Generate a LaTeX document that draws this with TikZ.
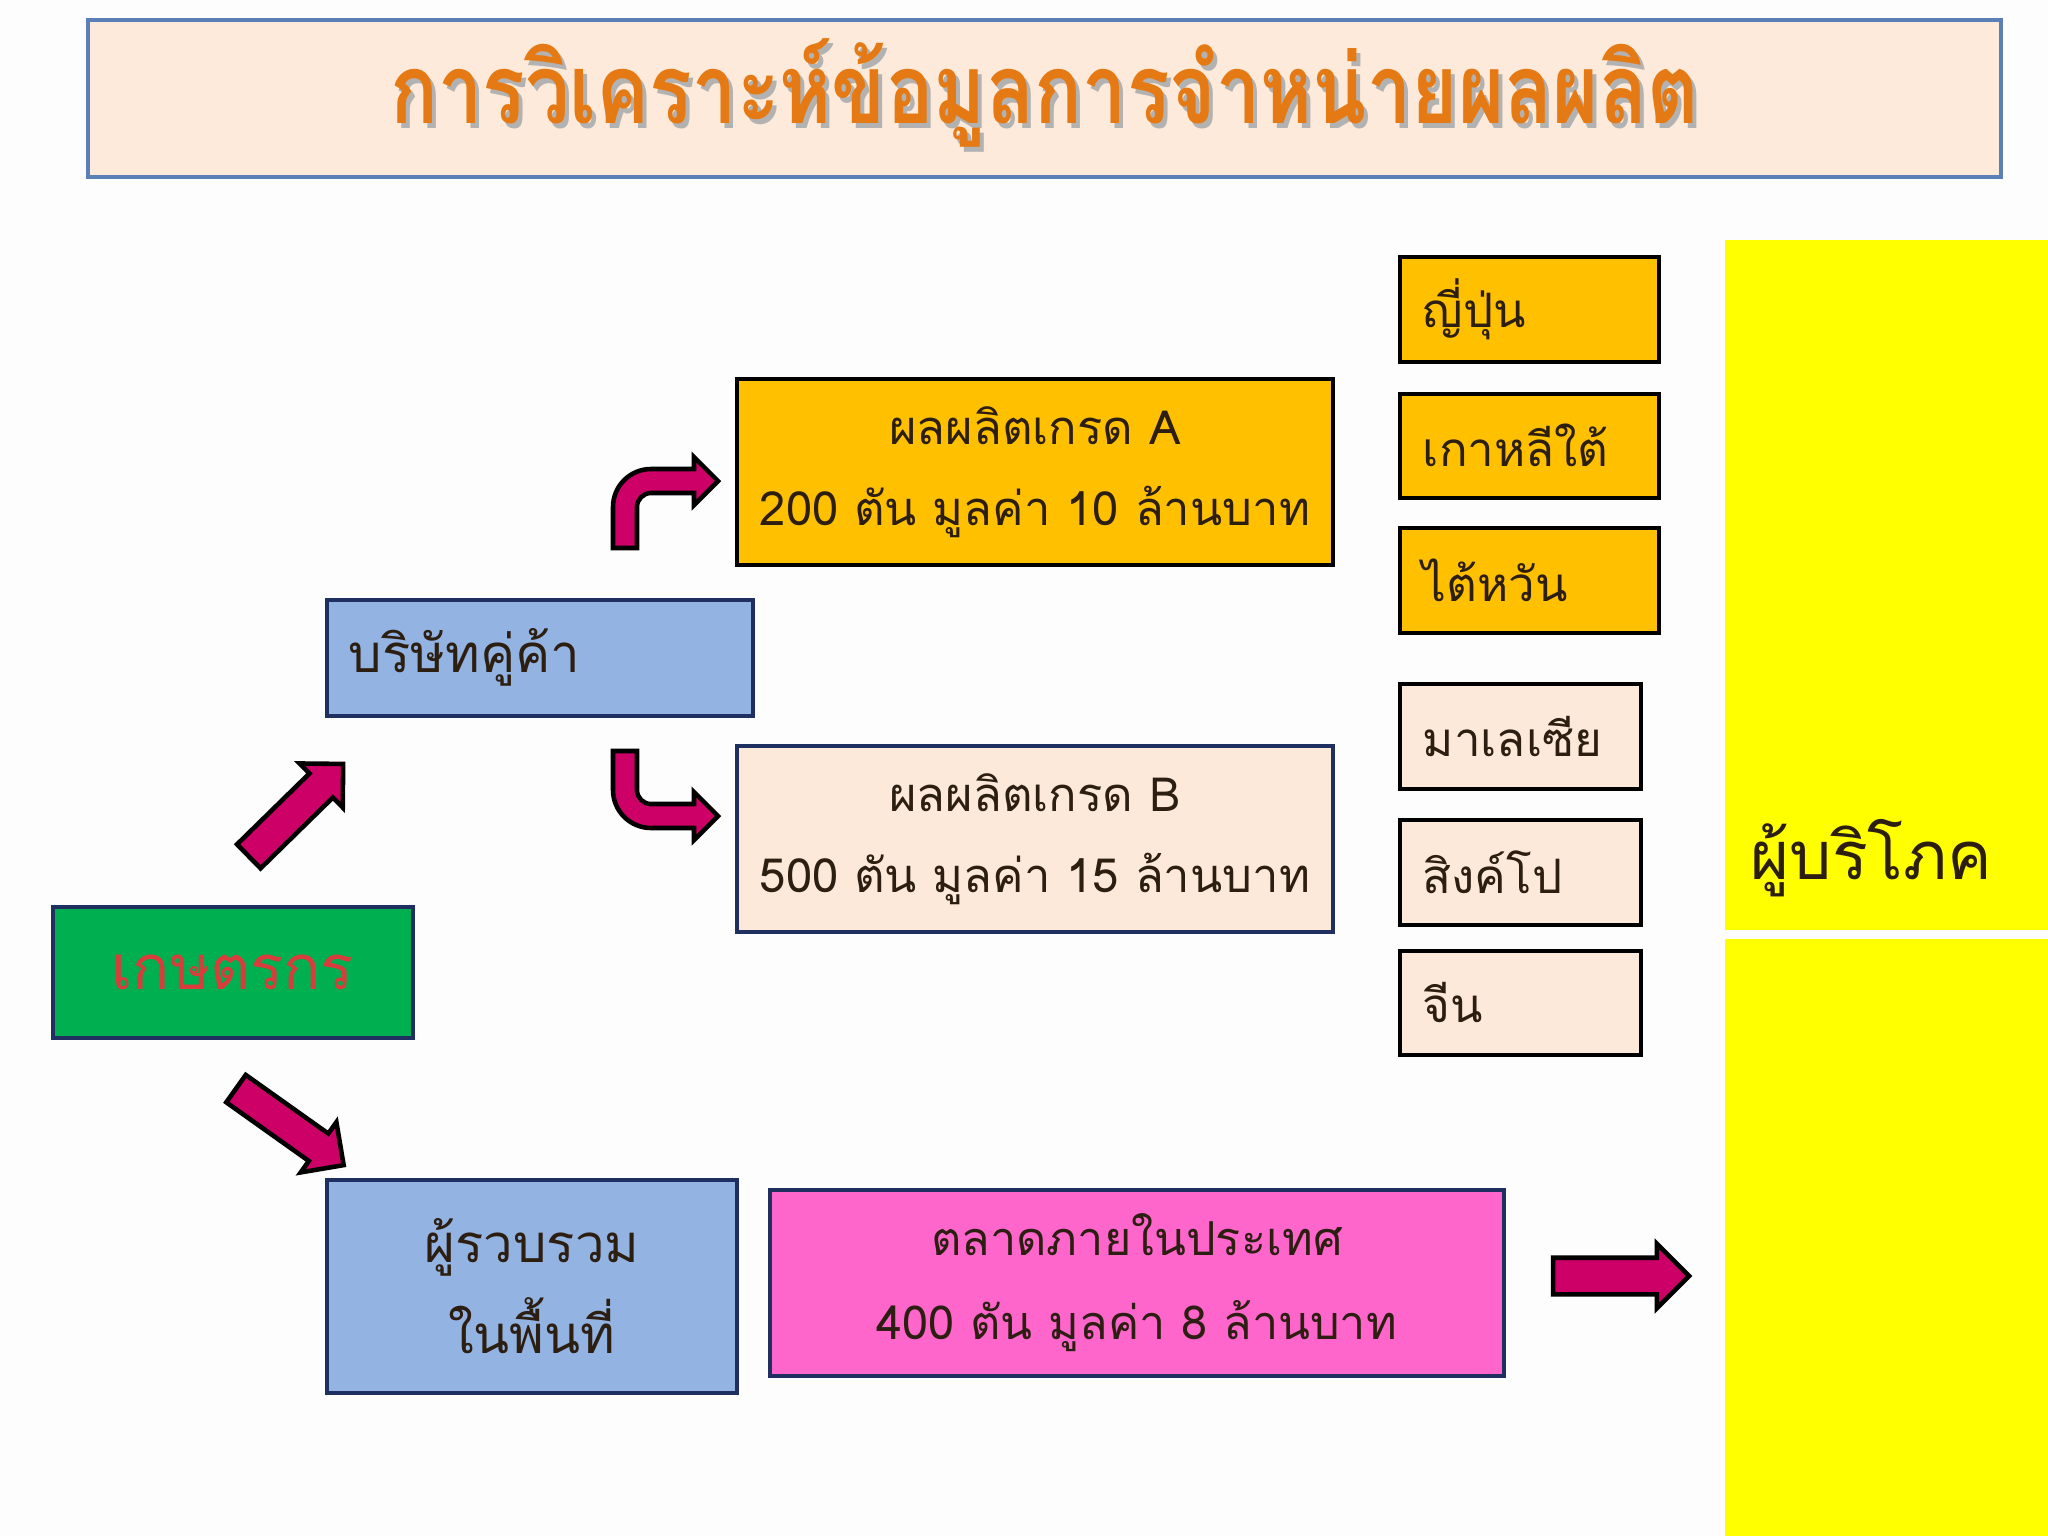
\documentclass[tikz,border=0pt]{standalone}
\usepackage{fontspec}
\setmainfont[Script=Thai]{Loma}
\newfontfamily\titlefont[Script=Thai,FakeStretch=0.82]{Loma}
\usetikzlibrary{shapes.arrows,calc}

\definecolor{pagebg}{HTML}{FDFDFE}
\definecolor{titlefill}{HTML}{FDEADA}
\definecolor{titleline}{HTML}{5B80B8}
\definecolor{titleorange}{HTML}{E57A14}
\definecolor{navyline}{HTML}{1F2F5F}
\definecolor{farmgreen}{HTML}{00B050}
\definecolor{farmred}{HTML}{DA3B3B}
\definecolor{paleblue}{HTML}{93B4E3}
\definecolor{gradeorange}{HTML}{FFC000}
\definecolor{peach}{HTML}{FDE9D9}
\definecolor{marketpink}{HTML}{FF66CC}
\definecolor{consumeryellow}{HTML}{FFFF00}
\definecolor{arrowred}{HTML}{CC0066}
\definecolor{textbrown}{HTML}{2D1E12}

\begin{document}
\begin{tikzpicture}[x=0.01cm,y=-0.01cm,
    box/.style={rectangle, draw=navyline, line width=1pt, inner sep=0pt,
      anchor=north west, text=textbrown},
    bluebox/.style={box, fill=paleblue},
    gradebox/.style={box, draw=black, fill=gradeorange, align=center,
      font=\fontsize{13.4}{23}\selectfont},
    peachbox/.style={box, fill=peach, align=center, font=\fontsize{13.4}{23}\selectfont},
    countrybox/.style={box, draw=black, align=left, inner xsep=0.23cm,
      font=\fontsize{13.5}{16}\selectfont},
    blockarrow/.style={single arrow, draw=black, line width=1.3pt, fill=arrowred,
      inner xsep=0pt, inner ysep=0.145cm, single arrow head extend=0.14cm,
      single arrow tip angle=90},
    bentarrow/.style={draw=black, line width=1.3pt, fill=arrowred, line join=miter}]

  % page and title
  \fill[pagebg] (0,0) rectangle (2048,1536);
  \useasboundingbox (0,0) rectangle (2048,1536);
  \node[box, draw=titleline, line width=1.2pt, fill=titlefill,
    minimum width=19.12cm, minimum height=1.57cm] (title) at (86,18) {};
  \node[text=gray!60, font=\titlefont\fontsize{27.5}{30}\bfseries\selectfont]
    (titleshadow) at ($(title.center)+(4,-1)$) {การวิเคราะห์ข้อมูลการจำหน่ายผลผลิต};
  \node[text=titleorange, font=\titlefont\fontsize{27.5}{30}\bfseries\selectfont]
    (titletext) at ($(title.center)+(0,-6)$) {การวิเคราะห์ข้อมูลการจำหน่ายผลผลิต};

  % left part of the chain
  \node[box, fill=farmgreen, text=farmred, minimum width=3.6cm, minimum height=1.31cm,
    font=\fontsize{17.5}{20}\selectfont] (farmer) at (51,905) {เกษตรกร};
  \node[bluebox, minimum width=4.26cm, minimum height=1.16cm, text width=3.82cm,
    inner xsep=0.22cm, align=left, font=\fontsize{15}{18}\selectfont] (partner) at (325,598) {บริษัทคู่ค้า};
  \node[bluebox, minimum width=4.1cm, minimum height=2.13cm, align=center,
    font=\fontsize{15}{26}\selectfont] (collector) at (325,1178) {ผู้รวบรวม\\ในพื้นที่};

  % grades and market
  \node[gradebox, minimum width=5.96cm, minimum height=1.86cm] (gradeA) at (735,377)
    {ผลผลิตเกรด A\\200 ตัน มูลค่า 10 ล้านบาท};
  \node[peachbox, minimum width=5.96cm, minimum height=1.86cm] (gradeB) at (735,744)
    {ผลผลิตเกรด B\\500 ตัน มูลค่า 15 ล้านบาท};
  \node[box, fill=marketpink, align=center, minimum width=7.34cm, minimum height=1.86cm,
    font=\fontsize{13.3}{24}\selectfont] (market) at (768,1188)
    {ตลาดภายในประเทศ\\400 ตัน มูลค่า 8 ล้านบาท};

  % countries
  \node[countrybox, fill=gradeorange, text width=2.13cm, minimum height=1.05cm] (japan) at (1398,255) {ญี่ปุ่น};
  \node[countrybox, fill=gradeorange, text width=2.13cm, minimum height=1.04cm] (korea) at (1398,392) {เกาหลีใต้};
  \node[countrybox, fill=gradeorange, text width=2.13cm, minimum height=1.05cm] (taiwan) at (1398,526) {ไต้หวัน};
  \node[countrybox, fill=peach, text width=1.95cm, minimum height=1.05cm] (malaysia) at (1398,682) {มาเลเซีย};
  \node[countrybox, fill=peach, text width=1.95cm, minimum height=1.05cm] (singapore) at (1398,818) {สิงค์โป};
  \node[countrybox, fill=peach, text width=1.95cm, minimum height=1.04cm] (china) at (1398,949) {จีน};

  % consumers
  \node[rectangle, fill=consumeryellow, inner sep=0pt, anchor=north west,
    minimum width=3.24cm, minimum height=6.9cm] (consumer) at (1724,239) {};
  \node[rectangle, fill=consumeryellow, inner sep=0pt, anchor=north west,
    minimum width=3.24cm, minimum height=5.98cm] (consumerlow) at (1724,938) {};
  \node[anchor=west, text=textbrown, font=\fontsize{19}{22}\selectfont]
    (consumertext) at (1738,858) {ผู้บริโภค};

  % arrows
  \node[blockarrow, minimum height=1.32cm, rotate=44.4] (uparrow) at (290,816) {};
  \node[blockarrow, minimum height=1.32cm, rotate=-35.4] (downarrow) at (283,1122) {};
  \node[blockarrow, minimum height=1.36cm, inner ysep=0.16cm] (rightarrow) at (1612,1276) {};
  \draw[bentarrow] (613,548) [rounded corners=0.38cm] -- (613,469) [sharp corners] -- (694,469)
    -- (694,457) -- (718,481) -- (694,505) -- (694,493) [rounded corners=0.14cm] -- (637,493)
    [sharp corners] -- (637,548) -- cycle;
  \draw[bentarrow] (613,751) [rounded corners=0.38cm] -- (613,828) [sharp corners] -- (694,828)
    -- (694,840) -- (718,816) -- (694,792) -- (694,804) [rounded corners=0.14cm] -- (637,804)
    [sharp corners] -- (637,751) -- cycle;
\end{tikzpicture}
\end{document}
